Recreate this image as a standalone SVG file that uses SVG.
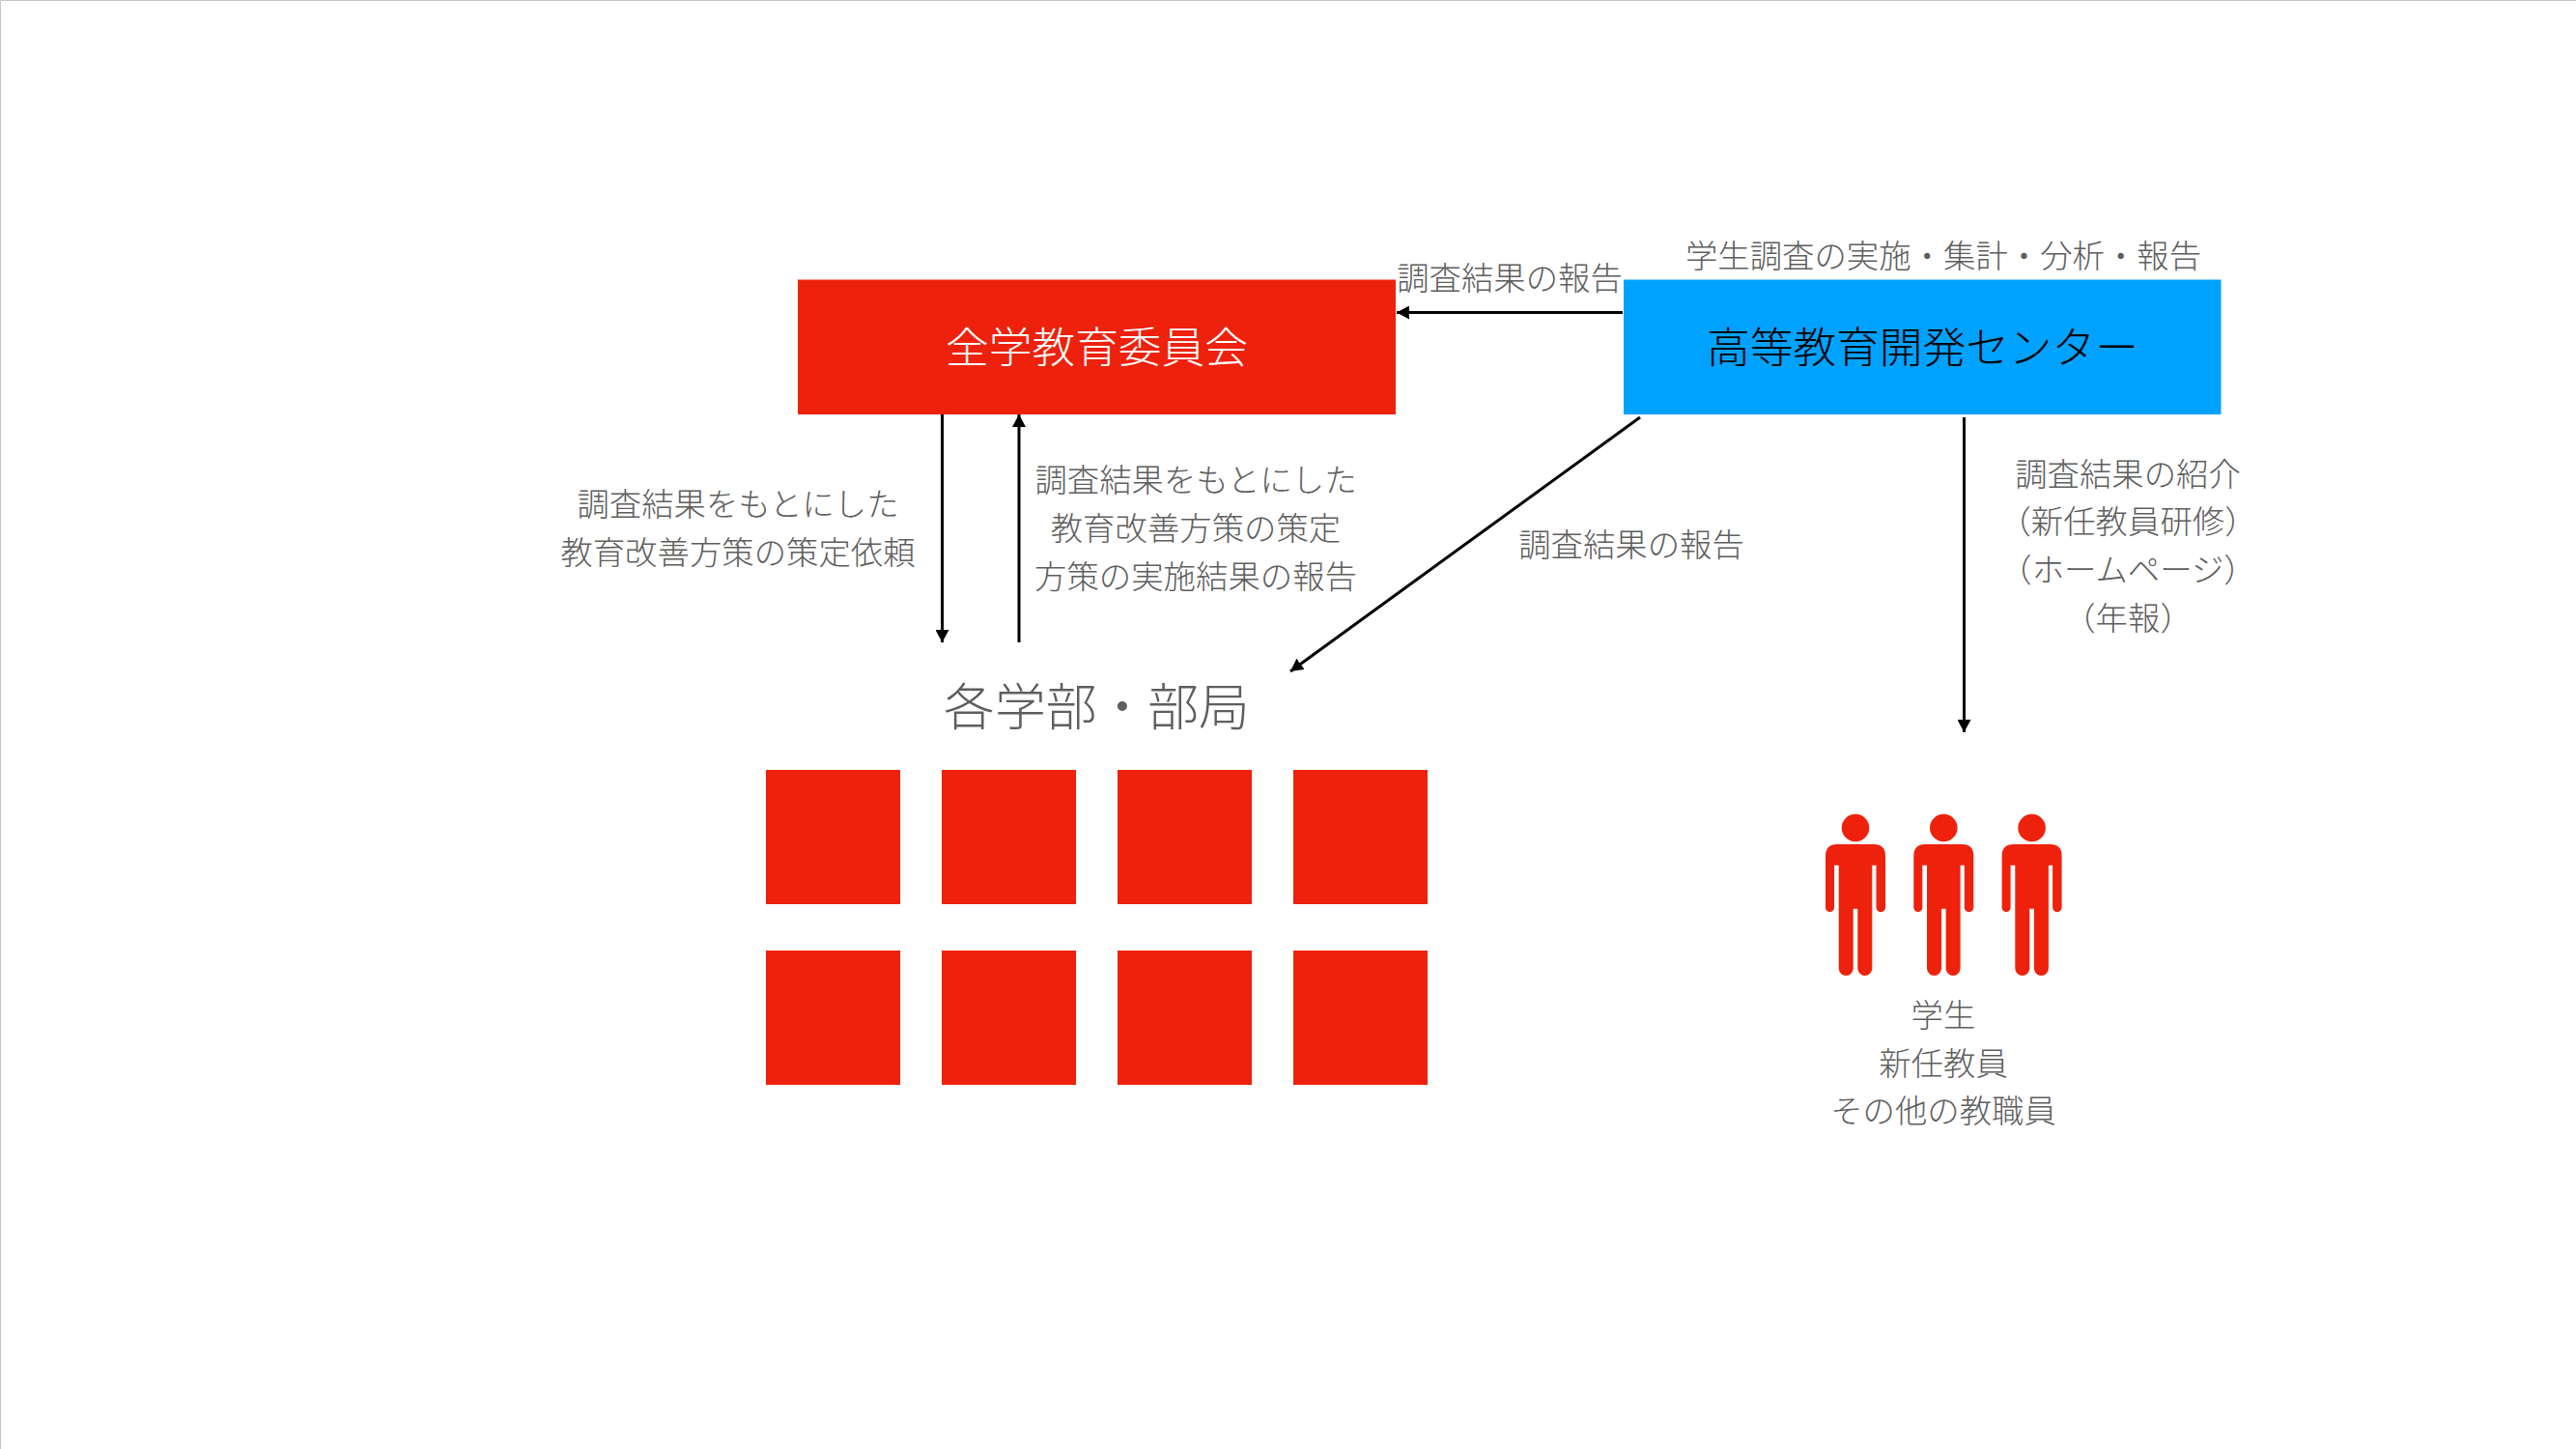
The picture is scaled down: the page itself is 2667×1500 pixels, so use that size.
<svg xmlns="http://www.w3.org/2000/svg" width="2667" height="1500" viewBox="0 0 2667 1500">
<defs>
<style>
text{font-family:"Noto Sans CJK JP","Noto Sans CJK SC",sans-serif;text-anchor:middle;font-weight:300}
.l{font-size:33.400px;fill:#5e5e5e}
.t{font-size:44.700px}
.r{fill:#EE220C}
.c{stroke:#000;stroke-width:3;fill:none;marker-end:url(#a)}
</style>
<marker id="a" viewBox="0 0 13 14" markerUnits="userSpaceOnUse" markerWidth="13" markerHeight="14" refX="13" refY="7" orient="auto"><path d="M0 0L13 7L0 14Z" fill="#000"/></marker>
<g id="p"><circle cx="1921" cy="857" r="14.3"/><path d="M1902 874H1940Q1952 874 1952 886V939.500A4.500 4.500 0 0 1 1942.500 939.500V895.700H1938.300V1002.500A7.500 7.500 0 0 1 1923.300 1002.500V940.700H1918.700V1002.500A7.500 7.500 0 0 1 1903.700 1002.500V895.700H1899V939.500A4.500 4.500 0 0 1 1890 939.500V886Q1890 874 1902 874Z"/></g>
</defs>
<rect width="2667" height="1500" fill="#fff"/>
<path d="M0.500 1500V0.500H2667" fill="none" stroke="#c4c4c4" stroke-width="1"/>
<g id="connectors">
<path class="c" d="M1680 323.500H1446"/>
<path class="c" d="M975.500 429V665"/>
<path class="c" d="M1055 665V429"/>
<path class="c" d="M1698 432L1336 695"/>
<path class="c" d="M2033.500 432V758"/>
</g>
<g id="committee"><rect class="r" x="826" y="289.500" width="619" height="139.500"/><text class="t" x="1135.500" y="376" fill="#fff">全学教育委員会</text></g>
<g id="center"><rect x="1681" y="289.500" width="618.500" height="139.500" fill="#00A2FF"/><text class="t" x="1990.500" y="376" fill="#000">高等教育開発センター</text></g>
<g id="faculties">
<text x="1135.500" y="751" font-size="52.800" fill="#5e5e5e">各学部・部局</text>
<rect class="r" x="793" y="797" width="139" height="139"/><rect class="r" x="975" y="797" width="139" height="139"/><rect class="r" x="1157" y="797" width="139" height="139"/><rect class="r" x="1339" y="797" width="139" height="139"/>
<rect class="r" x="793" y="984" width="139" height="139"/><rect class="r" x="975" y="984" width="139" height="139"/><rect class="r" x="1157" y="984" width="139" height="139"/><rect class="r" x="1339" y="984" width="139" height="139"/>
</g>
<g id="people" class="r"><use href="#p"/><use href="#p" x="91.300"/><use href="#p" x="182.600"/></g>
<g id="labels" class="l">
<text class="l" x="2012" y="277">学生調査の実施・集計・分析・報告</text>
<text class="l" x="1563" y="300">調査結果の報告</text>
<text class="l" x="764" y="534">調査結果をもとにした</text>
<text class="l" x="764" y="584">教育改善方策の策定依頼</text>
<text class="l" x="1238" y="509">調査結果をもとにした</text>
<text class="l" x="1238" y="559">教育改善方策の策定</text>
<text class="l" x="1238" y="609">方策の実施結果の報告</text>
<text class="l" x="1689" y="576">調査結果の報告</text>
<text class="l" x="2203" y="503">調査結果の紹介</text>
<text class="l" x="2203" y="552">（新任教員研修）</text>
<text class="l" x="2203" y="602">（ホームページ）</text>
<text class="l" x="2203" y="652">（年報）</text>
<text class="l" x="2012" y="1063">学生</text>
<text class="l" x="2012" y="1113">新任教員</text>
<text class="l" x="2012" y="1162">その他の教職員</text>
</g>
</svg>
